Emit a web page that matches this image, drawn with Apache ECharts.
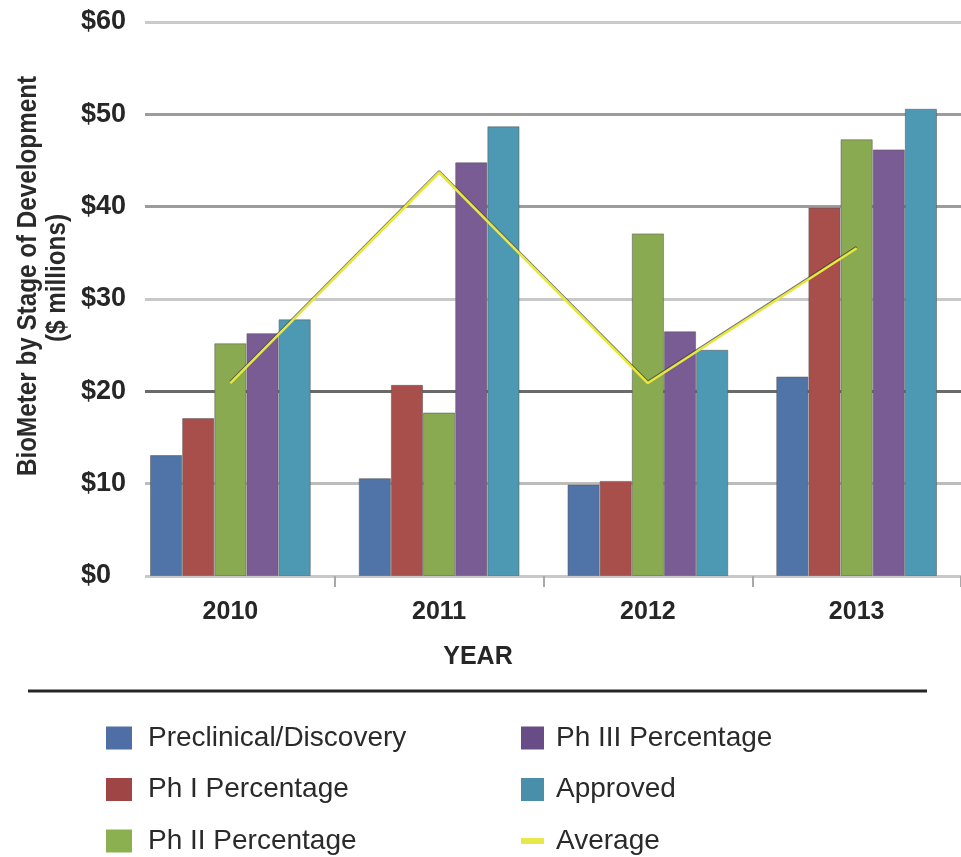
<!DOCTYPE html>
<html>
<head>
<meta charset="utf-8">
<script src="https://cdn.jsdelivr.net/npm/echarts@6/dist/echarts.min.js"></script>
<style>html,body{margin:0;padding:0;background:#fff;}#c{width:961px;height:857px;}</style>
</head>
<body>
<div id="c"></div>
<script>
var categories = ['2010', '2011', '2012', '2013'];
var preclinical = [13.1, 10.6, 9.9, 21.6];
var ph1 = [17.1, 20.7, 10.3, 39.9];
var ph2 = [25.2, 17.7, 37.1, 47.3];
var ph3 = [26.3, 44.8, 26.5, 46.2];
var approved = [27.8, 48.7, 24.5, 50.6];
var average = [20.9, 43.7, 20.9, 35.5];
var yTicks = [0, 10, 20, 30, 40, 50, 60];
var seriesNames = ['Preclinical/Discovery', 'Ph I Percentage', 'Ph II Percentage', 'Ph III Percentage', 'Approved', 'Average'];
var barColors = ['#5073a8', '#a84e4b', '#8aaa52', '#785c93', '#4d98b2'];
var legendColors = ['#4f6ea5', '#a04545', '#8ab04f', '#674c85', '#4a8faa', '#e8e84a'];
var FONT = 'Liberation Sans, Arial, sans-serif';

var chart = echarts.init(document.getElementById('c'), null, {renderer: 'canvas'});
var barData = [preclinical, ph1, ph2, ph3, approved];

var series = barData.map(function (d, i) {
  return {
    name: seriesNames[i], type: 'bar', xAxisIndex: 0, yAxisIndex: 0,
    data: d, barGap: '0%', barCategoryGap: '23%',
    itemStyle: {color: barColors[i], borderColor: 'rgba(90,90,90,0.55)', borderWidth: 1},
    emphasis: {disabled: true}, z: 3
  };
});
series.push({
  name: seriesNames[5], type: 'line', xAxisIndex: 0, yAxisIndex: 0,
  data: average, symbol: 'none', z: 5,
  itemStyle: {color: '#e8e84a'},
  lineStyle: {color: '#e8e83c', width: 2.5, shadowColor: 'rgba(60,60,60,0.7)', shadowOffsetY: -1.2, shadowBlur: 0}
});
series.push({type: 'line', xAxisIndex: 1, yAxisIndex: 1, data: [], silent: true});

function legendItem(i) {
  return {name: seriesNames[i], icon: 'rect', itemStyle: {color: legendColors[i], borderWidth: 0}};
}

var legendText = function (pad) {
  return {fontFamily: FONT, fontSize: 28, color: '#2a2a2a', lineHeight: 28, padding: [0, 0, 0, pad]};
};

var option = {
  animation: false,
  backgroundColor: '#ffffff',
  grid: [
    {left: 126, right: -7, top: 22, bottom: 281},
    {left: 145, right: 0, top: 22, bottom: 281}
  ],
  xAxis: [
    {type: 'category', gridIndex: 0, data: categories,
     axisLine: {show: false},
     axisTick: {show: true, length: 11, lineStyle: {color: '#a8a8a8', width: 2},
                interval: function (idx) { return idx > 0; }},
     axisLabel: {fontFamily: FONT, fontSize: 25, fontWeight: 'bold', color: '#262626', margin: 24}},
    {type: 'value', gridIndex: 1, show: false, min: 0, max: 1}
  ],
  yAxis: [
    {type: 'value', gridIndex: 0, min: yTicks[0], max: yTicks[yTicks.length - 1], interval: 10, show: false},
    {type: 'value', gridIndex: 1, min: yTicks[0], max: yTicks[yTicks.length - 1], interval: 10,
     axisLine: {show: false}, axisTick: {show: false},
     axisLabel: {fontFamily: FONT, fontSize: 27, fontWeight: 'bold', color: '#262626', align: 'left', margin: 64,
                 formatter: function (v) { return '$' + v; }},
     splitLine: {show: true, lineStyle: {width: 3, color: ['#c8c8c8', '#bcbcbc', '#6a6a6a', '#c8c8c8', '#9c9c9c', '#9c9c9c', '#cacaca']}}}
  ],
  legend: [
    {orient: 'vertical', left: 106, top: 724, padding: 0, height: 133, itemWidth: 26, itemHeight: 23, itemGap: 23.5,
     selectedMode: false, textStyle: legendText(11), data: [0, 1, 2].map(legendItem)},
    {orient: 'vertical', left: 521, top: 724, padding: 0, height: 133, itemWidth: 23, itemHeight: 23, itemGap: 23.5,
     selectedMode: false, textStyle: legendText(7), data: [3, 4].map(legendItem)},
    {orient: 'vertical', left: 521, top: 827, padding: 0, itemWidth: 23, itemHeight: 6, itemGap: 23.5,
     selectedMode: false, textStyle: legendText(7), data: [5].map(legendItem)}
  ],
  graphic: [
    {type: 'text', x: 28, y: 276, rotation: Math.PI / 2, scaleX: 0.866,
     style: {text: 'BioMeter by Stage of Development', fill: '#2a2a2a', font: 'bold 28px ' + FONT, textAlign: 'center', textVerticalAlign: 'middle'}},
    {type: 'text', x: 57, y: 278, rotation: Math.PI / 2, scaleX: 0.866,
     style: {text: '($ millions)', fill: '#2a2a2a', font: 'bold 28px ' + FONT, textAlign: 'center', textVerticalAlign: 'middle'}},
    {type: 'text', x: 478, y: 657,
     style: {text: 'YEAR', fill: '#262626', font: 'bold 25px ' + FONT, textAlign: 'center', textVerticalAlign: 'middle'}},
    {type: 'line', shape: {x1: 28, y1: 691, x2: 927, y2: 691}, style: {stroke: '#262626', lineWidth: 3}}
  ],
  series: series
};
chart.setOption(option);
</script>
</body>
</html>
